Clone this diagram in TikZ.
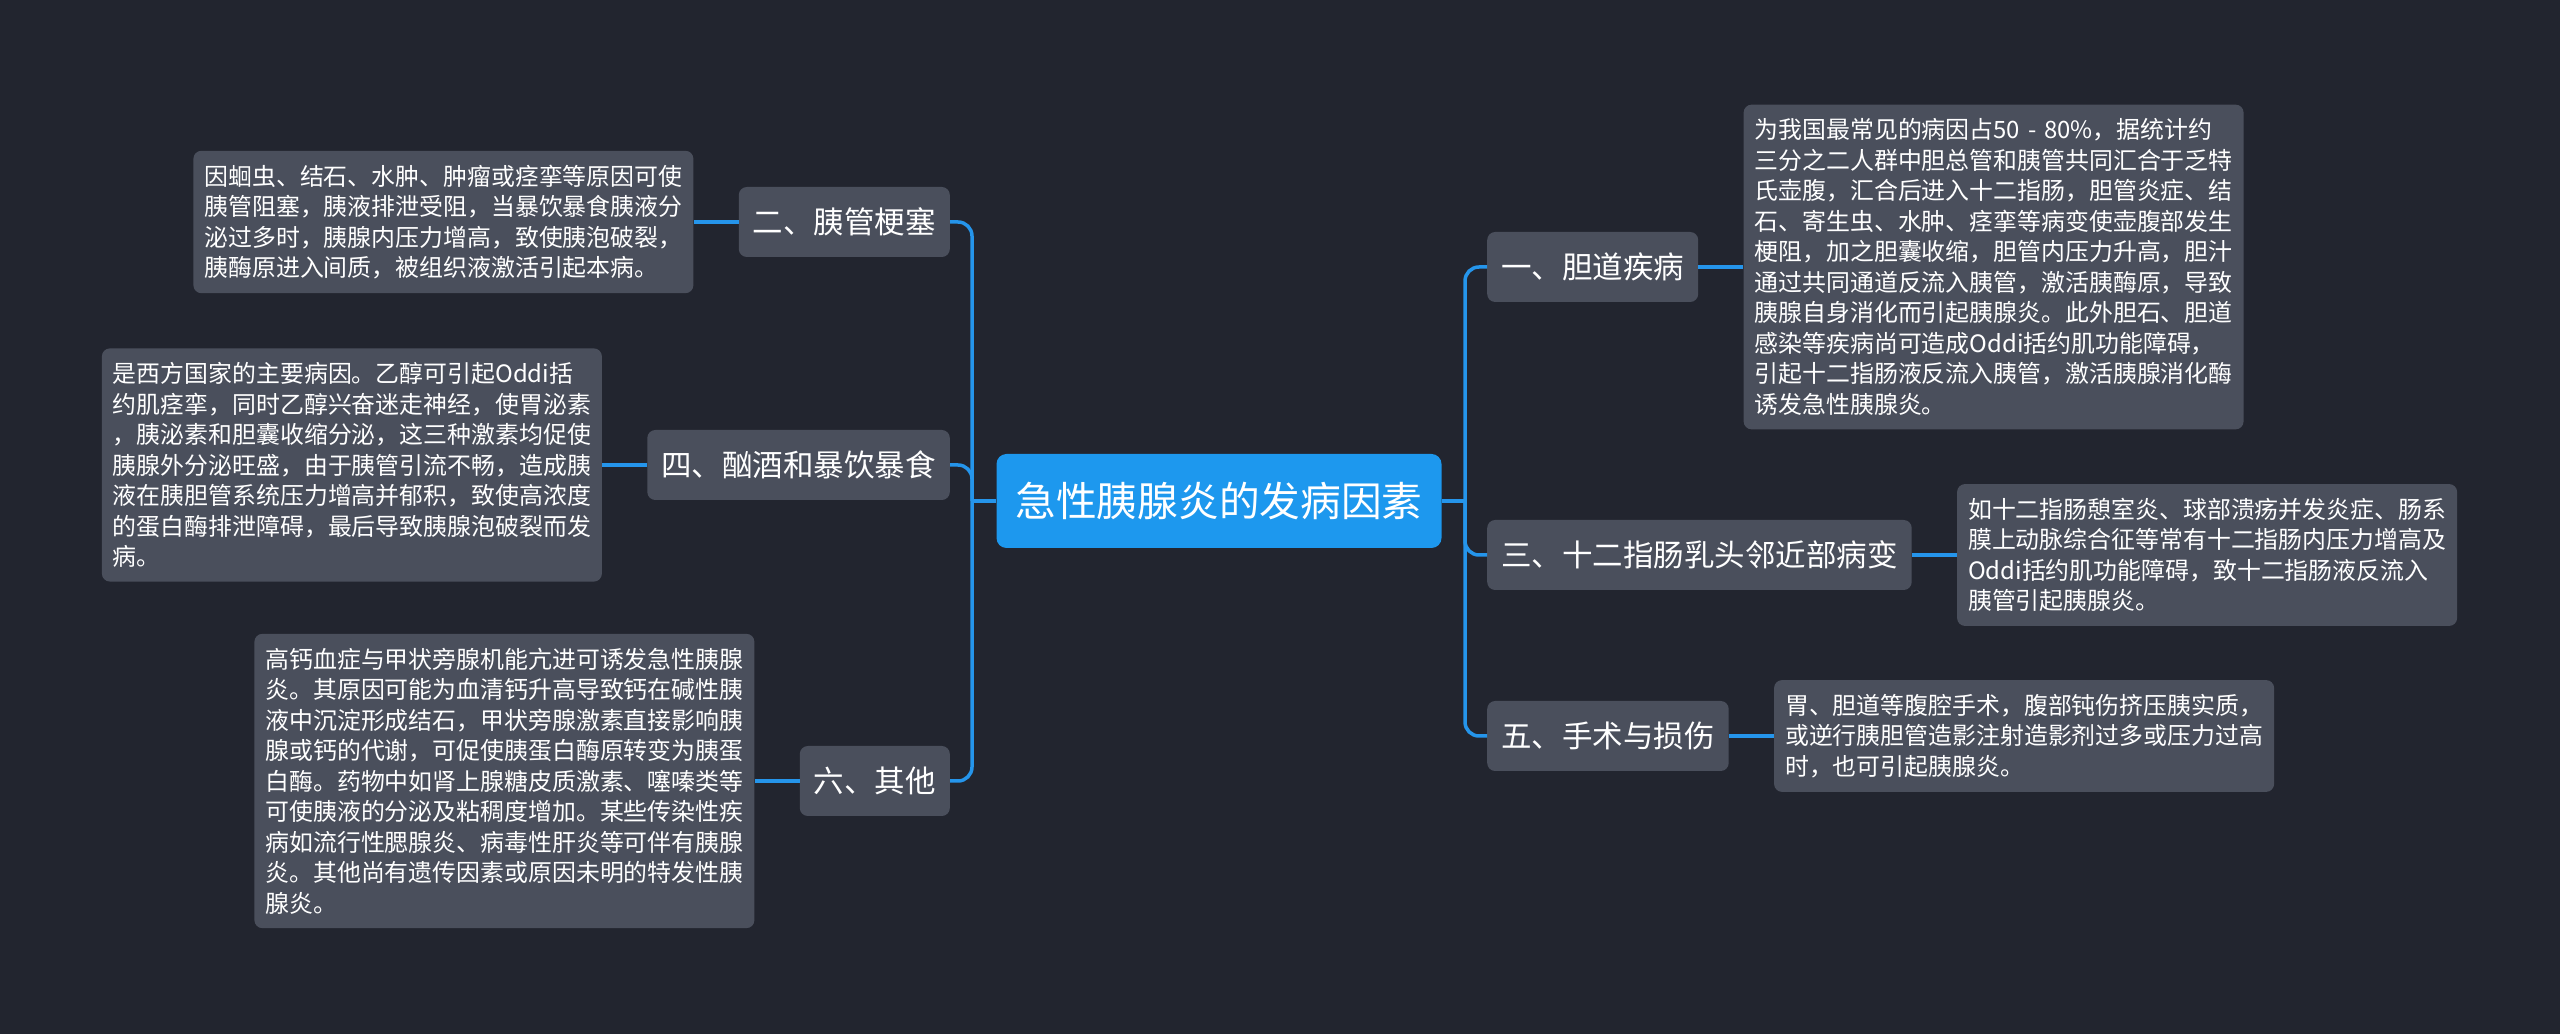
\documentclass[tikz,border=0pt]{standalone}
\usepackage{fontspec}
\setmainfont{Noto Sans CJK SC}
\usetikzlibrary{positioning, calc}
\definecolor{bgc}{HTML}{22252F}
\definecolor{boxc}{HTML}{4A4F5C}
\definecolor{ttlc}{HTML}{1D98EE}
\definecolor{lnc}{HTML}{2595EB}
\tikzset{
  mind/.style={x=1pt, y=1pt, text=white},
  ttl/.style={fill=ttlc, rounded corners=10pt, inner xsep=19pt,
              minimum height=94pt, font=\fontsize{40.7}{48}\selectfont},
  br/.style={fill=boxc, rounded corners=8pt, inner xsep=14pt,
             minimum height=70pt, font=\fontsize{30.5}{36}\selectfont},
  lf/.style={fill=boxc, rounded corners=8pt, align=left, text width=478pt,
             inner xsep=11pt, inner ysep=14pt,
             font=\fontsize{23.9}{30.5}\selectfont},
  ln/.style={draw=lnc, line width=3.5pt}
}

\begin{document}
\begin{tikzpicture}[mind]
    \fill[bgc] (0,0) rectangle (2560,1034);

    \node[ttl] (root) at (1219,533) {急性胰腺炎的发病因素};

    % left side
    \node[br, anchor=east] (b2) at (950,812) {二、胰管梗塞};
    \node[br, anchor=east] (b4) at (950,569) {四、酗酒和暴饮暴食};
    \node[br, anchor=east] (b6) at (950,253) {六、其他};

    \node[lf, left=45pt of b2] (t2) {因蛔虫、结石、水肿、肿瘤或痉挛等原因可使\\
      胰管阻塞，胰液排泄受阻，当暴饮暴食胰液分\\
      泌过多时，胰腺内压力增高，致使胰泡破裂，\\
      胰酶原进入间质，被组织液激活引起本病。};
    \node[lf, left=45pt of b4] (t4) {是西方国家的主要病因。乙醇可引起Oddi括\\
      约肌痉挛，同时乙醇兴奋迷走神经，使胃泌素\\
      ，胰泌素和胆囊收缩分泌，这三种激素均促使\\
      胰腺外分泌旺盛，由于胰管引流不畅，造成胰\\
      液在胰胆管系统压力增高并郁积，致使高浓度\\
      的蛋白酶排泄障碍，最后导致胰腺泡破裂而发\\
      病。};
    \node[lf, left=45pt of b6] (t6) {高钙血症与甲状旁腺机能亢进可诱发急性胰腺\\
      炎。其原因可能为血清钙升高导致钙在碱性胰\\
      液中沉淀形成结石，甲状旁腺激素直接影响胰\\
      腺或钙的代谢，可促使胰蛋白酶原转变为胰蛋\\
      白酶。药物中如肾上腺糖皮质激素、噻嗪类等\\
      可使胰液的分泌及粘稠度增加。某些传染性疾\\
      病如流行性腮腺炎、病毒性肝炎等可伴有胰腺\\
      炎。其他尚有遗传因素或原因未明的特发性胰\\
      腺炎。};

    % right side
    \node[br, anchor=west] (b1) at (1487,767) {一、胆道疾病};
    \node[br, anchor=west] (b3) at (1487,479) {三、十二指肠乳头邻近部病变};
    \node[br, anchor=west] (b5) at (1487,298) {五、手术与损伤};

    \node[lf, right=45pt of b1] (t1) {为我国最常见的病因占50 - 80\%，据统计约\\
      三分之二人群中胆总管和胰管共同汇合于乏特\\
      氏壶腹，汇合后进入十二指肠，胆管炎症、结\\
      石、寄生虫、水肿、痉挛等病变使壶腹部发生\\
      梗阻，加之胆囊收缩，胆管内压力升高，胆汁\\
      通过共同通道反流入胰管，激活胰酶原，导致\\
      胰腺自身消化而引起胰腺炎。此外胆石、胆道\\
      感染等疾病尚可造成Oddi括约肌功能障碍，\\
      引起十二指肠液反流入胰管，激活胰腺消化酶\\
      诱发急性胰腺炎。};
    \node[lf, right=45pt of b3] (t3) {如十二指肠憩室炎、球部溃疡并发炎症、肠系\\
      膜上动脉综合征等常有十二指肠内压力增高及\\
      Oddi括约肌功能障碍，致十二指肠液反流入\\
      胰管引起胰腺炎。};
    \node[lf, right=45pt of b5] (t5) {胃、胆道等腹腔手术，腹部钝伤挤压胰实质，\\
      或逆行胰胆管造影注射造影剂过多或压力过高\\
      时，也可引起胰腺炎。};

    % connectors
    \coordinate (jl) at (972,533);
    \coordinate (jr) at (1465,533);
    \draw[ln] (root.west) -- (jl);
    \draw[ln] (root.east) -- (jr);
    \foreach \b in {b2,b4,b6} {\draw[ln, rounded corners=14pt] (jl) |- (\b.east);}
    \foreach \b in {b1,b3,b5} {\draw[ln, rounded corners=14pt] (jr) |- (\b.west);}
    \foreach \b/\t in {b2/t2, b4/t4, b6/t6, b1/t1, b3/t3, b5/t5} {\draw[ln] (\b) -- (\t);}
\end{tikzpicture}
\end{document}
